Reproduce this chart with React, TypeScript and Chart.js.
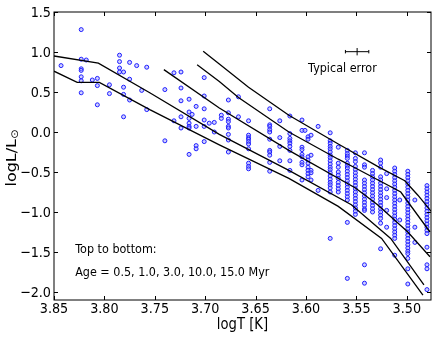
import React, { useEffect, useRef } from 'react';
import { Chart, registerables } from 'chart.js';

Chart.register(...registerables);

// ---------- data ----------
const xTicks = [3.85, 3.8, 3.75, 3.7, 3.65, 3.6, 3.55, 3.5];
const yTicks = [1.5, 1.0, 0.5, 0.0, -0.5, -1.0, -1.5, -2.0];

const isoAges = ['0.5', '1.0', '3.0', '10.0', '15.0'];
const isoLogT = [
  [3.702, 3.686, 3.657, 3.617, 3.568, 3.529, 3.502, 3.489, 3.476],
  [3.708, 3.686, 3.667, 3.617, 3.568, 3.551, 3.506, 3.477],
  [3.741, 3.686, 3.617, 3.551, 3.529, 3.499, 3.477],
  [3.85, 3.806, 3.755, 3.686, 3.617, 3.555, 3.516, 3.483],
  [3.85, 3.827, 3.805, 3.755, 3.686, 3.617, 3.568, 3.525, 3.484],
];
const isoLogL = [
  [1.01, 0.85, 0.56, 0.21, -0.15, -0.43, -0.61, -0.79, -0.99],
  [0.84, 0.63, 0.43, 0.0, -0.34, -0.45, -0.75, -1.25],
  [0.78, 0.3, -0.23, -0.7, -0.91, -1.25, -1.56],
  [0.95, 0.86, 0.49, -0.03, -0.48, -0.91, -1.33, -1.91],
  [0.76, 0.62, 0.62, 0.28, -0.16, -0.58, -0.93, -1.33, -2.04],
];

// stars: one logT per column, with the logL values observed in that column
const colLogT = [
  3.843, 3.823, 3.818, 3.812, 3.807, 3.795, 3.785, 3.781, 3.775, 3.768,
  3.763, 3.758, 3.74, 3.731, 3.724, 3.716, 3.713, 3.709, 3.701, 3.696,
  3.691, 3.684, 3.677, 3.667, 3.657, 3.636, 3.626, 3.616, 3.604, 3.601,
  3.598, 3.595, 3.588, 3.576, 3.568, 3.559, 3.551, 3.542, 3.534, 3.526,
  3.52, 3.512, 3.507, 3.499, 3.492, 3.48,
];
const colLogL = [
  [0.83],
  [1.28, 0.91, 0.79, 0.77, 0.69, 0.64, 0.49],
  [0.9],
  [0.65],
  [0.67, 0.58, 0.34],
  [0.59, 0.48],
  [0.96, 0.88, 0.8, 0.75],
  [0.75, 0.56, 0.47, 0.19],
  [0.87, 0.66, 0.4],
  [0.83],
  [0.52],
  [0.81, 0.28],
  [0.53, -0.11],
  [0.74, 0.14],
  [0.75, 0.55, 0.39, 0.19, 0.05],
  [0.41, 0.25, 0.17, 0.11, 0.07, 0.05, -0.28],
  [0.22],
  [0.32, 0.07, -0.17, -0.21],
  [0.68, 0.45, 0.29, 0.15, 0.07, -0.12],
  [0.11],
  [0.12, 0.0],
  [0.21, 0.17],
  [0.4, 0.24, 0.16, 0.13, 0.07, 0.05, -0.03, -0.1, -0.25],
  [0.44, 0.19],
  [0.14, -0.04, -0.07, -0.09, -0.12, -0.15, -0.21, -0.39, -0.43, -0.46],
  [0.29, 0.09, 0.07, 0.03, 0.0, -0.09, -0.23, -0.25, -0.29, -0.38, -0.49],
  [0.14, -0.07, -0.18, -0.36],
  [0.2, -0.02, -0.08, -0.11, -0.14, -0.18, -0.23, -0.36, -0.48],
  [0.15, 0.02, -0.19, -0.22, -0.28, -0.31, -0.38, -0.41, -0.6],
  [0.02],
  [-0.06, -0.09, -0.31, -0.35, -0.39, -0.44, -0.48, -0.52, -0.56],
  [-0.04, -0.29, -0.48, -0.51, -0.6],
  [0.07, -0.73],
  [-0.01, -0.11, -0.14, -0.18, -0.21, -0.25, -0.29, -0.32, -0.36, -0.4, -0.44, -0.47, -0.51, -0.55, -0.59, -0.63, -0.66, -0.7, -0.75, -1.33],
  [-0.19, -0.39, -0.44, -0.5, -0.54, -0.58, -0.63, -0.67, -0.71, -0.75],
  [-0.23, -0.27, -0.3, -0.33, -0.39, -0.42, -0.45, -0.49, -0.53, -0.57, -0.61, -0.65, -0.69, -0.73, -0.77, -0.81, -0.85, -1.13, -1.83],
  [-0.26, -0.33, -0.37, -0.43, -0.47, -0.51, -0.55, -0.59, -0.63, -0.67, -0.71, -0.75, -0.79, -0.83, -0.87, -0.91, -0.95, -0.99, -1.03],
  [-0.26, -0.41, -0.44, -0.6, -0.64, -0.68, -0.72, -0.76, -0.8, -0.84, -0.88, -0.92, -0.96, -0.98, -1.66, -1.89],
  [-0.48, -0.52, -0.56, -0.6, -0.64, -0.68, -0.72, -0.76, -0.8, -0.84, -0.88, -0.92, -0.96, -1.0],
  [-0.35, -0.39, -0.44, -0.56, -0.6, -0.64, -0.68, -0.72, -0.76, -0.8, -0.84, -0.88, -0.92, -0.96, -1.0, -1.04, -1.08, -1.14, -1.46],
  [-0.52, -0.71, -0.82, -0.98, -1.19],
  [-0.45, -0.49, -0.53, -0.57, -0.61, -0.65, -0.69, -0.73, -0.77, -0.81, -0.85, -0.89, -0.93, -0.97, -1.01, -1.05, -1.09, -1.13, -1.17, -1.21, -1.25, -1.29, -1.33, -1.54],
  [-0.85, -1.1],
  [-0.49, -0.53, -0.57, -0.61, -0.65, -0.69, -0.73, -0.77, -0.81, -0.85, -0.89, -0.93, -0.97, -1.01, -1.05, -1.09, -1.13, -1.17, -1.21, -1.25, -1.29, -1.33, -1.37, -1.41, -1.45, -1.49, -1.52, -1.58, -1.71, -1.9],
  [-0.85, -1.19, -1.38],
  [-0.67, -0.71, -0.75, -0.79, -0.83, -0.87, -0.91, -0.95, -0.99, -1.03, -1.07, -1.11, -1.15, -1.19, -1.23, -1.27, -1.44, -1.66, -1.71, -1.97],
];

// typical error bar: centre (logT, logL) and half sizes
const errCenter = [3.5493, 1.004];
const errHalf = [0.0116, 0.046];

// text annotations (anchor in data coordinates)
const noteError = { text: 'Typical error', x: 3.5639, y: 0.756 };
const noteTop = { text: 'Top to bottom:', x: 3.829, y: -1.509 };
const noteAge = { text: 'Age = ' + isoAges.join(', ') + ' Myr', x: 3.829, y: -1.8 };

const xTitle = 'logT [K]';
const yTitleMain = 'logL/L';
const yTitleSub = '\u2299';

// ---------- drawing helpers ----------
const FONT = '"DejaVu Sans", "Liberation Sans", sans-serif';
const SY = 1.14;

function drawText(ctx: CanvasRenderingContext2D, s: string, x: number, y: number, size: number, align: CanvasTextAlign) {
  ctx.save();
  ctx.translate(x, y);
  ctx.scale(1, SY);
  ctx.font = `${size}px ${FONT}`;
  ctx.fillStyle = '#000';
  ctx.textAlign = align;
  ctx.textBaseline = 'alphabetic';
  ctx.fillText(s, 0, 0);
  ctx.restore();
}

function fmt(v: number, d: number) {
  const s = Math.abs(v).toFixed(d);
  return (v < 0 ? '\u2212' : '') + s;
}

const framePlugin = {
  id: 'framePlugin',
  afterDraw(chart: any) {
    const ctx: CanvasRenderingContext2D = chart.ctx;
    const { left, right, top, bottom } = chart.chartArea;
    const xs = chart.scales.x;
    const ys = chart.scales.y;
    ctx.save();
    ctx.strokeStyle = '#000';
    ctx.lineWidth = 1;
    ctx.strokeRect(left, top, right - left, bottom - top);

    const TL = 4;
    ctx.beginPath();
    xTicks.forEach((v) => {
      const px = Math.round(xs.getPixelForValue(v)) + 0.5;
      ctx.moveTo(px, bottom);
      ctx.lineTo(px, bottom - TL);
      ctx.moveTo(px, top);
      ctx.lineTo(px, top + TL);
    });
    yTicks.forEach((v) => {
      const py = Math.round(ys.getPixelForValue(v)) + 0.5;
      ctx.moveTo(left, py);
      ctx.lineTo(left + TL, py);
      ctx.moveTo(right, py);
      ctx.lineTo(right - TL, py);
    });
    ctx.stroke();

    // tick labels
    xTicks.forEach((v) => {
      drawText(ctx, v.toFixed(2), xs.getPixelForValue(v), bottom + 13, 12.8, 'center');
    });
    yTicks.forEach((v) => {
      drawText(ctx, fmt(v, 1), left - 3, ys.getPixelForValue(v) + 5, 12.8, 'right');
    });

    // x title
    drawText(ctx, xTitle, (left + right) / 2, 328.5, 13.2, 'center');

    // y title, rotated with subscript sun symbol
    ctx.save();
    ctx.translate(16, (top + bottom) / 2 + 2);
    ctx.rotate(-Math.PI / 2);
    ctx.scale(SY, 1);
    ctx.fillStyle = '#000';
    ctx.textBaseline = 'alphabetic';
    ctx.textAlign = 'left';
    ctx.font = `14px ${FONT}`;
    const w1 = ctx.measureText(yTitleMain).width;
    ctx.font = `10px ${FONT}`;
    const w2 = ctx.measureText(yTitleSub).width;
    const start = -(w1 + w2) / 2;
    ctx.font = `14px ${FONT}`;
    ctx.fillText(yTitleMain, start, 0);
    ctx.font = `10px ${FONT}`;
    ctx.fillText(yTitleSub, start + w1, 2);
    ctx.restore();

    // error bar
    const cx = xs.getPixelForValue(errCenter[0]);
    const cy = ys.getPixelForValue(errCenter[1]);
    const x1 = xs.getPixelForValue(errCenter[0] + errHalf[0]);
    const x2 = xs.getPixelForValue(errCenter[0] - errHalf[0]);
    const y1 = ys.getPixelForValue(errCenter[1] + errHalf[1]);
    const y2 = ys.getPixelForValue(errCenter[1] - errHalf[1]);
    ctx.beginPath();
    ctx.strokeStyle = '#000';
    ctx.lineWidth = 1;
    ctx.moveTo(x1, cy);
    ctx.lineTo(x2, cy);
    ctx.moveTo(cx, y1);
    ctx.lineTo(cx, y2);
    ctx.moveTo(x1, cy - 1.7);
    ctx.lineTo(x1, cy + 1.7);
    ctx.moveTo(x2, cy - 1.7);
    ctx.lineTo(x2, cy + 1.7);
    ctx.stroke();

    // notes
    drawText(ctx, noteError.text, xs.getPixelForValue(noteError.x), ys.getPixelForValue(noteError.y), 11.2, 'center');
    drawText(ctx, noteTop.text, xs.getPixelForValue(noteTop.x), ys.getPixelForValue(noteTop.y), 11.2, 'left');
    drawText(ctx, noteAge.text, xs.getPixelForValue(noteAge.x), ys.getPixelForValue(noteAge.y), 11.2, 'left');
    ctx.restore();
  },
};

export default function App() {
  const ref = useRef<HTMLCanvasElement>(null);

  useEffect(() => {
    const canvas = ref.current;
    if (!canvas) return;

    const datasets: any[] = isoLogT.map((ts, i) => ({
      label: isoAges[i] + ' Myr',
      data: ts.map((t, j) => ({ x: t, y: isoLogL[i][j] })),
      showLine: true,
      borderColor: '#000',
      borderWidth: 1.3,
      pointRadius: 0,
      fill: false,
      tension: 0,
      order: 0,
    }));

    const stars: { x: number; y: number }[] = [];
    colLogT.forEach((t, i) => colLogL[i].forEach((l) => stars.push({ x: t, y: l })));
    datasets.push({
      label: 'stars',
      data: stars,
      pointRadius: 2,
      borderWidth: 1,
      borderColor: 'rgb(30,30,255)',
      backgroundColor: 'rgba(150,150,255,0.45)',
      order: 1,
    });

    const chart = new Chart(canvas, {
      type: 'scatter',
      data: { datasets },
      options: {
        animation: false,
        responsive: false,
        devicePixelRatio: 1,
        events: [],
        layout: { padding: { left: 54, right: 3, top: 12, bottom: 39 } },
        plugins: { legend: { display: false }, tooltip: { enabled: false } },
        scales: {
          x: { type: 'linear', display: false, reverse: true, min: 3.476, max: 3.85 },
          y: { type: 'linear', display: false, min: -2.1, max: 1.5 },
        },
      },
      plugins: [framePlugin],
    } as any);

    return () => chart.destroy();
  }, []);

  return (
    <div style={{ position: 'absolute', left: 0, top: 0, width: 436, height: 339, background: '#fff' }}>
      <canvas ref={ref} width={436} height={339} style={{ width: 436, height: 339, display: 'block' }} />
    </div>
  );
}
